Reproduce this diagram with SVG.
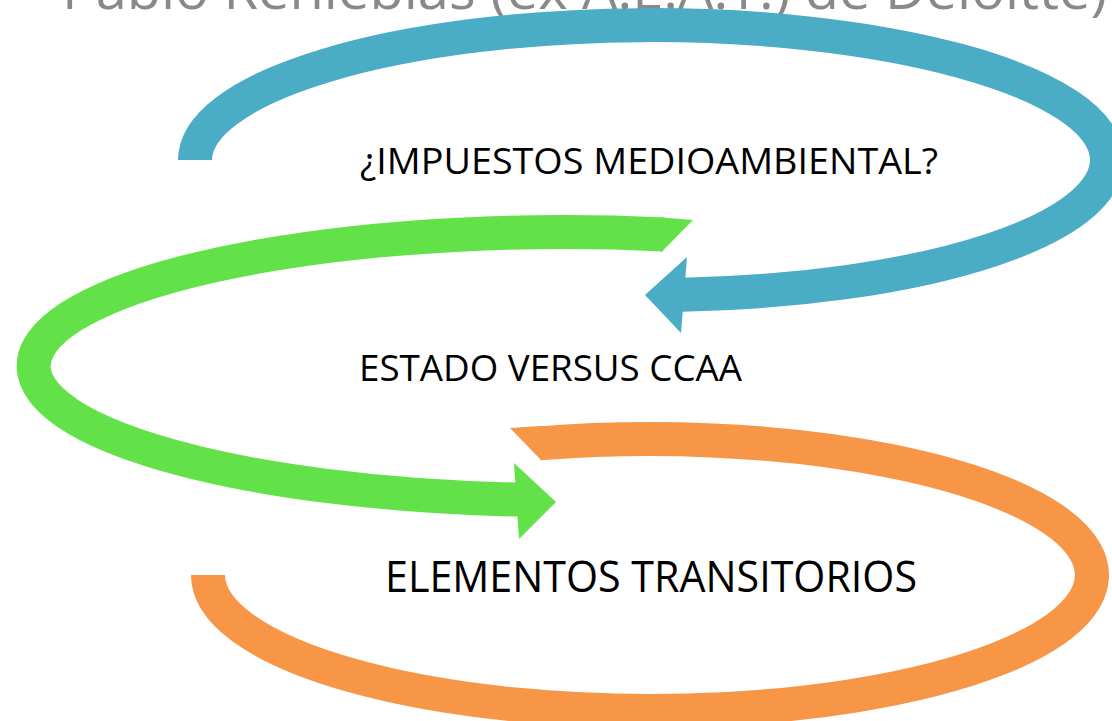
<svg xmlns="http://www.w3.org/2000/svg" width="1112" height="721" viewBox="0 0 1112 721">
<style>
.lbl{font-family:"Open Sans","Noto Sans","Liberation Sans",sans-serif;fill:#000}
.title{font-family:"Open Sans","Noto Sans","Liberation Sans",sans-serif;fill:#898989;font-size:54px}
.arc{fill:none;stroke-width:34;stroke-linecap:butt}
</style>
<rect width="1112" height="721" fill="#ffffff"/>
<text class="title" x="62" y="9" textLength="1045" lengthAdjust="spacingAndGlyphs">Pablo Renieblas (ex A.E.A.T.) de Deloitte)</text>
<g id="connectors">
<g id="arrow-blue">
<path class="arc" stroke="#4BACC6" d="M 195 157 L 195 160 A 456 135 0 1 1 682 294.8"/>
<polygon fill="#4BACC6" points="687,257 645,295 681,333"/>
</g>
<g id="arrow-green">
<path class="arc" stroke="#62E248" d="M 664 234.5 A 530 134 0 1 0 519 499.6"/>
<polygon fill="#62E248" points="660,217.6 662,217.5 693,220 662,251.5 660,251.5"/>
<polygon fill="#62E248" points="514,463 556,502 519,539"/>
</g>
<g id="arrow-orange">
<path class="arc" stroke="#F79646" d="M 539 443.4 A 442 136 0 1 1 208 575 L 208 577"/>
<polygon fill="#F79646" points="543,426 541,426 510,428 541,460 543,460"/>
</g>
</g>
<g id="node-impuestos">
<text class="lbl" x="360" y="174" font-size="37" textLength="578" lengthAdjust="spacingAndGlyphs">¿IMPUESTOS MEDIOAMBIENTAL?</text>
</g>
<g id="node-estado">
<text class="lbl" x="359" y="381" font-size="37" textLength="383" lengthAdjust="spacingAndGlyphs">ESTADO VERSUS CCAA</text>
</g>
<g id="node-elementos">
<text class="lbl" x="385" y="592" font-size="43" textLength="532" lengthAdjust="spacingAndGlyphs">ELEMENTOS TRANSITORIOS</text>
</g>
</svg>
